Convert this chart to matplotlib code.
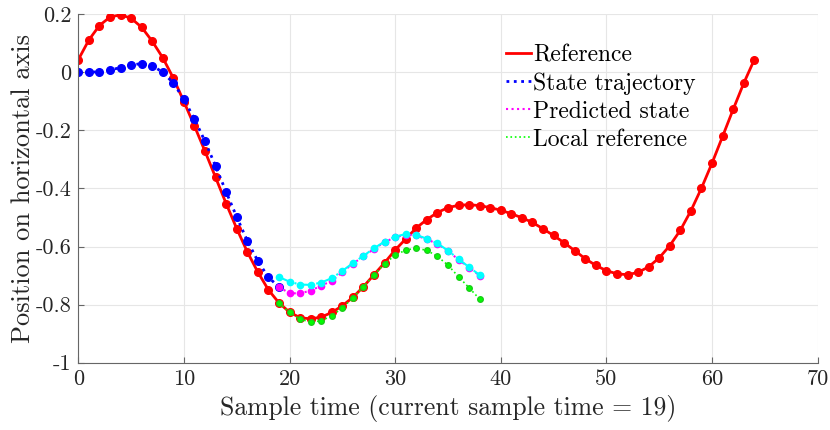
import numpy as np
import matplotlib
matplotlib.use('Agg')
import matplotlib.pyplot as plt
from matplotlib.ticker import FuncFormatter

plt.rcParams['font.family'] = 'cmr10'
plt.rcParams['mathtext.fontset'] = 'cm'
plt.rcParams['axes.unicode_minus'] = False

# reference trajectory, samples 0..64
ref = [0.043, 0.111, 0.161, 0.190, 0.198, 0.186, 0.155, 0.107, 0.050, -0.020,
       -0.101, -0.185, -0.272, -0.362, -0.452, -0.538, -0.618, -0.688, -0.749, -0.794,
       -0.826, -0.845, -0.849, -0.843, -0.827, -0.804, -0.775, -0.738, -0.697, -0.656,
       -0.612, -0.574, -0.536, -0.507, -0.483, -0.466, -0.458, -0.456, -0.459, -0.466,
       -0.475, -0.487, -0.501, -0.517, -0.539, -0.562, -0.587, -0.614, -0.642, -0.665,
       -0.683, -0.694, -0.697, -0.689, -0.670, -0.639, -0.597, -0.544, -0.477, -0.399,
       -0.313, -0.221, -0.128, -0.038, 0.043]

# state trajectory, samples 0..19
state = [0.0, 0.0, 0.002, 0.008, 0.016, 0.025, 0.030, 0.023, 0.0, -0.037,
         -0.093, -0.161, -0.238, -0.323, -0.412, -0.498, -0.580, -0.650, -0.706, -0.739]

# prediction horizon, samples 19..38
pred = [-0.739, -0.761, -0.761, -0.752, -0.735, -0.718, -0.688, -0.659, -0.634, -0.608,
        -0.585, -0.568, -0.559, -0.562, -0.575, -0.591, -0.616, -0.645, -0.673, -0.700]
pred2 = [-0.705, -0.721, -0.731, -0.732, -0.724, -0.709, -0.684, -0.657, -0.632, -0.606,
         -0.583, -0.566, -0.557, -0.560, -0.573, -0.589, -0.614, -0.643, -0.671, -0.698]
local_ref = [-0.794, -0.827, -0.850, -0.860, -0.856, -0.838, -0.812, -0.776, -0.738, -0.698,
             -0.659, -0.630, -0.612, -0.606, -0.613, -0.634, -0.664, -0.704, -0.742, -0.781]

k_ref = np.arange(len(ref))
k_state = np.arange(len(state))
k_pred = np.arange(19, 19 + len(pred))

fig = plt.figure(figsize=(8.3, 4.3), dpi=100)
ax = fig.add_axes([0.0943, 0.1565, 0.8908, 0.8105])

ax.plot(k_ref, ref, '-o', color='red', lw=2, ms=5.5, label='Reference')
ax.plot(k_state, state, ':o', color='blue', lw=2, ms=5.5, label='State trajectory')
ax.plot(k_pred, pred, ':o', color='magenta', lw=1.5, ms=4.5, label='Predicted state')
ax.plot(k_pred, pred2, '-.o', color='cyan', lw=1.5, ms=4.5, label='_nolegend_')
ax.plot(k_pred, local_ref, ':o', color=(0, 1, 0), mec=(0.1, 0.8, 0.1), lw=1.2, ms=4,
        label='Local reference')

ax.set_xlim(0, 70)
ax.set_ylim(-1, 0.2)
ax.set_xticks(np.arange(0, 71, 10))
ax.set_yticks(np.arange(-1, 0.21, 0.2))
ax.yaxis.set_major_formatter(FuncFormatter(lambda v, p: '%g' % (round(v, 2) + 0.0)))
ax.grid(True, color='0.9', lw=0.8)
ax.set_axisbelow(True)
for s in ['top', 'right']:
    ax.spines[s].set_visible(False)
for s in ['left', 'bottom']:
    ax.spines[s].set_color('0.4')
ax.tick_params(direction='in', length=4, color='0.4', labelsize=16, labelcolor='0.15', pad=5)

ax.set_xlabel('Sample time (current sample time = 19)', fontsize=18.5, color='0.15', labelpad=4)
ax.set_ylabel('Position on horizontal axis', fontsize=19, color='0.15', labelpad=0)

leg = ax.legend(loc='upper left', bbox_to_anchor=(506 / 830, 1 - 44 / 430),
                bbox_transform=fig.transFigure, frameon=False, fontsize=17,
                handlelength=1.05, handletextpad=0.1, borderpad=0, borderaxespad=0,
                labelspacing=0.25)
for h in leg.legend_handles:
    h.set_marker('')

fig.savefig('out.png', dpi=100)
